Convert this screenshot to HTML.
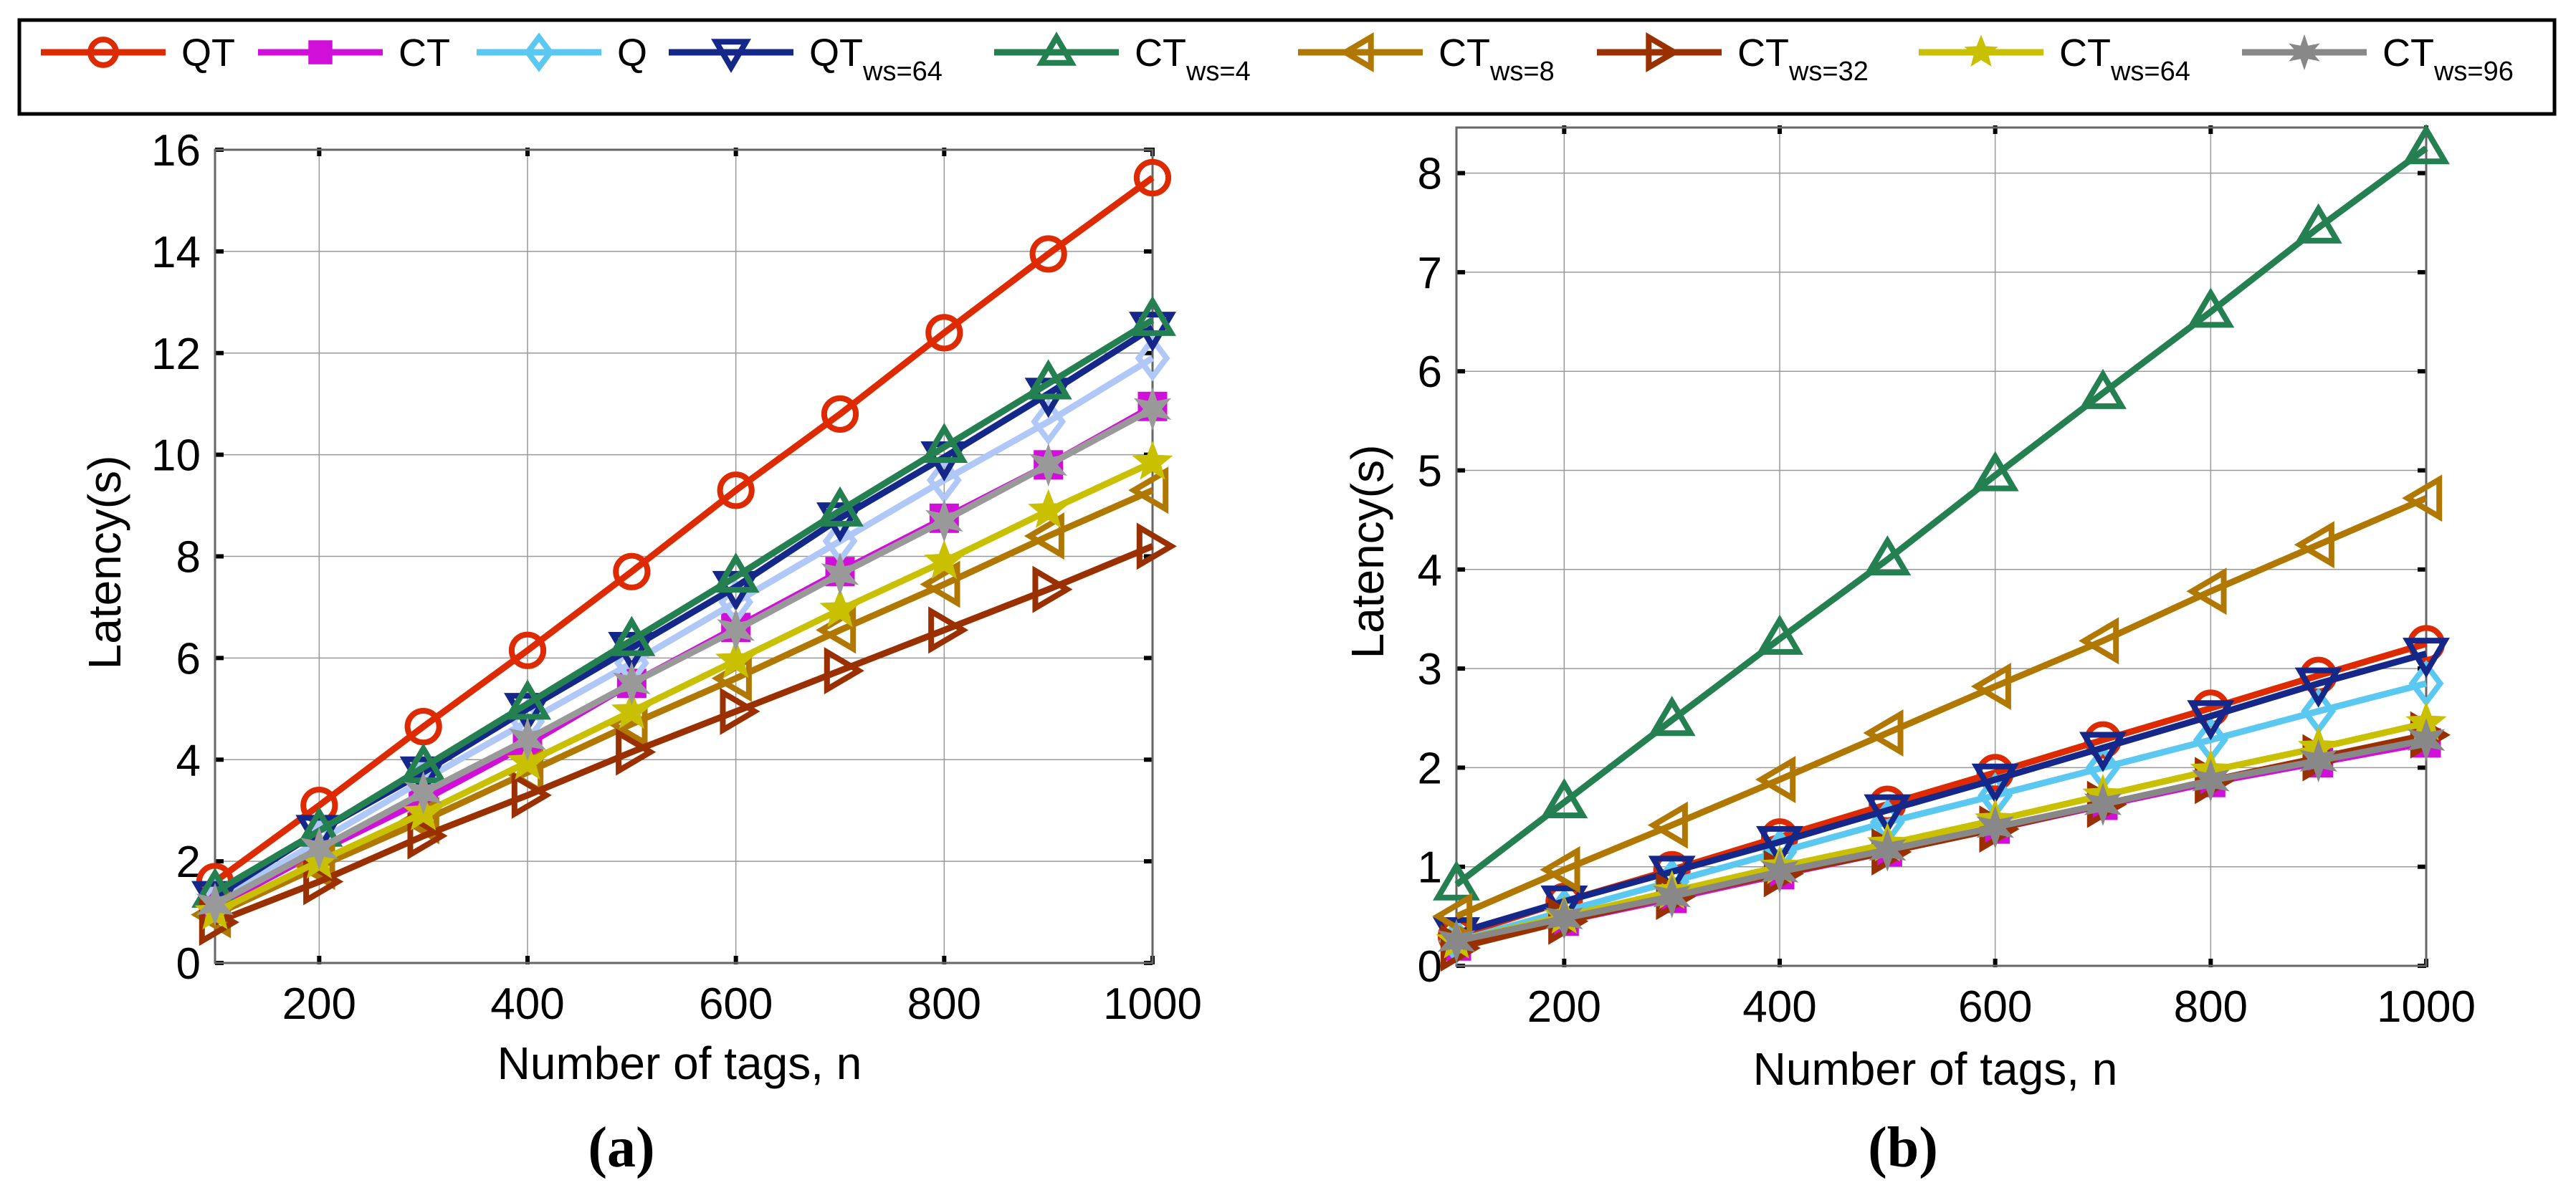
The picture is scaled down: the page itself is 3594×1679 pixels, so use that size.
<!DOCTYPE html>
<html><head><meta charset="utf-8"><style>
html,body{margin:0;padding:0;background:#fff}
svg{display:block}
text{font-family:"Liberation Sans",sans-serif}
</style></head><body>
<svg id="fig" width="3594" height="1679" viewBox="0 0 3594 1679" xmlns="http://www.w3.org/2000/svg">
<rect x="0" y="0" width="3594" height="1679" fill="#fff"/>
<g id="legend"></g>
<g id="pa"></g>
<g id="pb"></g>
</svg>
<script>
const xVals = [100,200,300,400,500,600,700,800,900,1000];
const seriesNames = ["QT","CT","Q","QTws64","CTws4","CTws8","CTws32","CTws64","CTws96"];
const a_QT = [1.6,3.1,4.65,6.15,7.7,9.3,10.8,12.4,13.95,15.45];
const a_CT = [1.1,2.2,3.2,4.3,5.5,6.6,7.7,8.75,9.8,10.95];
const a_Q = [1.2,2.4,3.6,4.75,5.9,7.1,8.3,9.5,10.65,11.9];
const a_QTws64 = [1.3,2.6,3.75,5.0,6.2,7.4,8.75,9.95,11.2,12.5];
const a_CTws4 = [1.4,2.6,3.85,5.1,6.35,7.6,8.9,10.15,11.4,12.65];
const a_CTws8 = [0.95,1.9,2.8,3.75,4.7,5.6,6.55,7.45,8.4,9.3];
const a_CTws32 = [0.8,1.6,2.5,3.3,4.15,4.95,5.75,6.55,7.35,8.2];
const a_CTws64 = [1.0,2.0,2.95,3.95,4.95,5.95,6.95,7.9,8.9,9.85];
const a_CTws96 = [1.15,2.25,3.35,4.4,5.5,6.55,7.65,8.7,9.8,10.9];
const b_QT = [0.3,0.65,0.97,1.3,1.63,1.95,2.28,2.6,2.93,3.25];
const b_CT = [0.2,0.45,0.68,0.92,1.15,1.38,1.62,1.85,2.05,2.25];
const b_Q = [0.25,0.55,0.85,1.15,1.45,1.72,2.0,2.28,2.57,2.85];
const b_QTws64 = [0.33,0.65,0.95,1.25,1.57,1.88,2.2,2.52,2.85,3.15];
const b_CTws4 = [0.82,1.65,2.48,3.3,4.1,4.95,5.78,6.6,7.45,8.25];
const b_CTws8 = [0.5,0.97,1.42,1.88,2.35,2.82,3.28,3.78,4.25,4.72];
const b_CTws32 = [0.18,0.45,0.7,0.93,1.15,1.38,1.63,1.87,2.1,2.33];
const b_CTws64 = [0.25,0.5,0.75,1.0,1.23,1.47,1.72,1.97,2.2,2.45];
const b_CTws96 = [0.25,0.48,0.7,0.95,1.17,1.4,1.63,1.87,2.07,2.28];
const xTicks = [200,400,600,800,1000];
const yTicksA = [0,2,4,6,8,10,12,14,16];
const yTicksB = [0,1,2,3,4,5,6,7,8];

const NS="http://www.w3.org/2000/svg";
function mk(tag,attrs,parent){const e=document.createElementNS(NS,tag);for(const k in attrs)e.setAttribute(k,attrs[k]);parent.appendChild(e);return e;}
const styles={
 QT:{c:"#dd2a00",m:"circle"},CT:{c:"#d010d8",m:"square"},Q:{c:"#5ac8f0",m:"diamond"},
 QTws64:{c:"#15288a",m:"down"},CTws4:{c:"#248050",m:"up"},CTws8:{c:"#b07800",m:"left"},
 CTws32:{c:"#9a3000",m:"right"},CTws64:{c:"#c8c000",m:"star"},CTws96:{c:"#888888",m:"hex"}};
function marker(g,type,x,y,c,r){
 const sw=8;let e;
 if(type==="circle") e=mk("circle",{cx:x,cy:y,r:r*0.85,fill:"none",stroke:c,"stroke-width":sw},g);
 else if(type==="square") e=mk("rect",{x:x-r*0.75,y:y-r*0.75,width:r*1.5,height:r*1.5,fill:c,stroke:c,"stroke-width":2},g);
 else if(type==="diamond") e=mk("polygon",{points:`${x},${y-r} ${x+r*0.75},${y} ${x},${y+r} ${x-r*0.75},${y}`,fill:"none",stroke:c,"stroke-width":sw},g);
 else if(type==="down") e=mk("polygon",{points:`${x-r},${y-r*0.7} ${x+r},${y-r*0.7} ${x},${y+r}`,fill:"none",stroke:c,"stroke-width":sw},g);
 else if(type==="up") e=mk("polygon",{points:`${x-r},${y+r*0.7} ${x+r},${y+r*0.7} ${x},${y-r}`,fill:"none",stroke:c,"stroke-width":sw},g);
 else if(type==="left") e=mk("polygon",{points:`${x+r*0.7},${y-r} ${x+r*0.7},${y+r} ${x-r},${y}`,fill:"none",stroke:c,"stroke-width":sw},g);
 else if(type==="right") e=mk("polygon",{points:`${x-r*0.7},${y-r} ${x-r*0.7},${y+r} ${x+r},${y}`,fill:"none",stroke:c,"stroke-width":sw},g);
 else {
  const n=type==="star"?5:6;let p=[];
  for(let i=0;i<2*n;i++){const a=-Math.PI/2+i*Math.PI/n;const rr=i%2?r*0.45:r*1.05;p.push((x+rr*Math.cos(a)).toFixed(1)+","+(y+rr*Math.sin(a)).toFixed(1));}
  e=mk("polygon",{points:p.join(" "),fill:c,stroke:c,"stroke-width":2},g);
 }
 
 
}
function plot(gid,data,cfg){
 const g=document.getElementById(gid);
 const X=v=>cfg.x0+(v-100)/900*(cfg.x1-cfg.x0);
 const Y=v=>cfg.y0-v/cfg.ymax*(cfg.y0-cfg.ytop);
 for(const t of xTicks){const l=mk("line",{x1:X(t),x2:X(t),y1:cfg.ytop,y2:cfg.y0,stroke:"#999","stroke-width":1.5},g);
  
  
  mk("rect",{x:X(t)-3,y:cfg.ytop-3,width:6,height:12,fill:"#000"},g);
  mk("rect",{x:X(t)-3,y:cfg.y0-10,width:6,height:12,fill:"#000"},g);
  const tx=mk("text",{x:X(t),y:cfg.y0+78,"font-size":62,"text-anchor":"middle",fill:"#000"},g);tx.textContent=String(t);
  
  }
 for(const t of cfg.yt){const l=mk("line",{x1:cfg.x0,x2:cfg.x1,y1:Y(t),y2:Y(t),stroke:"#999","stroke-width":1.5},g);
  
  
  mk("rect",{x:cfg.x0,y:Y(t)-3,width:12,height:6,fill:"#000"},g);
  mk("rect",{x:cfg.x1-12,y:Y(t)-3,width:12,height:6,fill:"#000"},g);
  const tx=mk("text",{x:cfg.x0-20,y:Y(t)+22,"font-size":62,"text-anchor":"end",fill:"#000"},g);tx.textContent=String(t);
  
  }
 const fr=mk("rect",{x:cfg.x0,y:cfg.ytop,width:cfg.x1-cfg.x0,height:cfg.y0-cfg.ytop,fill:"none",stroke:"#666","stroke-width":3},g);
 
 
 seriesNames.forEach((nm,i)=>{
  const s=styles[nm];const c=(cfg.qc&&nm==="Q")?cfg.qc:(cfg.gc&&nm==="CTws96")?cfg.gc:s.c;
  const sg=mk("g",{},g);
  
  
  const vals=data[i];
  const pl=mk("polyline",{points:vals.map((v,j)=>X(xVals[j]).toFixed(1)+","+Y(v).toFixed(1)).join(" "),fill:"none",stroke:c,"stroke-width":9,"stroke-linejoin":"round"},sg);
  
  
  vals.forEach((v,j)=>marker(sg,s.m,X(xVals[j]),Y(v),c,26));
 });
 const xl=mk("text",{x:cfg.xlx,y:cfg.xly,"font-size":64,"text-anchor":"middle",fill:"#000"},g);xl.textContent="Number of tags, n";
 
 
 const yl=mk("text",{x:0,y:0,"font-size":64,"text-anchor":"middle",fill:"#000",transform:`translate(${cfg.ylx},${cfg.yly}) rotate(-90)`},g);yl.textContent="Latency(s)";
 
 
 const cap=mk("text",{x:cfg.capx,y:cfg.capy,"text-anchor":"middle",fill:"#000",style:"font-family:'Liberation Serif',serif;font-size:80px;font-weight:bold"},g);
 cap.textContent='('+cfg.cap+')';
 
 
}
plot("pa",[a_QT,a_CT,a_Q,a_QTws64,a_CTws4,a_CTws8,a_CTws32,a_CTws64,a_CTws96],
 {x0:300,x1:1608,y0:1344,ytop:209,ymax:16,yt:yTicksA,xlx:948,xly:1506,ylx:168,yly:785,capx:867,capy:1628,cap:"a",qc:"#b0c8f8",gc:"#999999"});
plot("pb",[b_QT,b_CT,b_Q,b_QTws64,b_CTws4,b_CTws8,b_CTws32,b_CTws64,b_CTws96],
 {x0:2032,x1:3385,y0:1348,ytop:178,ymax:8.46,yt:yTicksB,xlx:2700,xly:1514,ylx:1930,yly:770,capx:2655,capy:1628,cap:"b"});
const lg=document.getElementById("legend");
const box=mk("rect",{x:27,y:28,width:3537,height:131,fill:"#fff",stroke:"#000","stroke-width":5},lg);


const legLineX=[57,360,665,933,1387,1811,2228,2677,3128];
const legLabels=[["QT",""],["CT",""],["Q",""],["QT","ws=64"],["CT","ws=4"],["CT","ws=8"],["CT","ws=32"],["CT","ws=64"],["CT","ws=96"]];
seriesNames.forEach((nm,i)=>{
 const s=styles[nm];const eg=mk("g",{},lg);
 
 
 const x=legLineX[i];
 mk("line",{x1:x,x2:x+174,y1:73,y2:73,stroke:s.c,"stroke-width":9},eg);
 marker(eg,s.m,x+87,73,s.c,21);
 const t=mk("text",{x:x+196,y:92,"font-size":54,fill:"#000"},eg);
 t.innerHTML=legLabels[i][0]+(legLabels[i][1]?'<tspan font-size="38" dy="20">'+legLabels[i][1]+'</tspan>':'');
});
</script>
</body></html>
